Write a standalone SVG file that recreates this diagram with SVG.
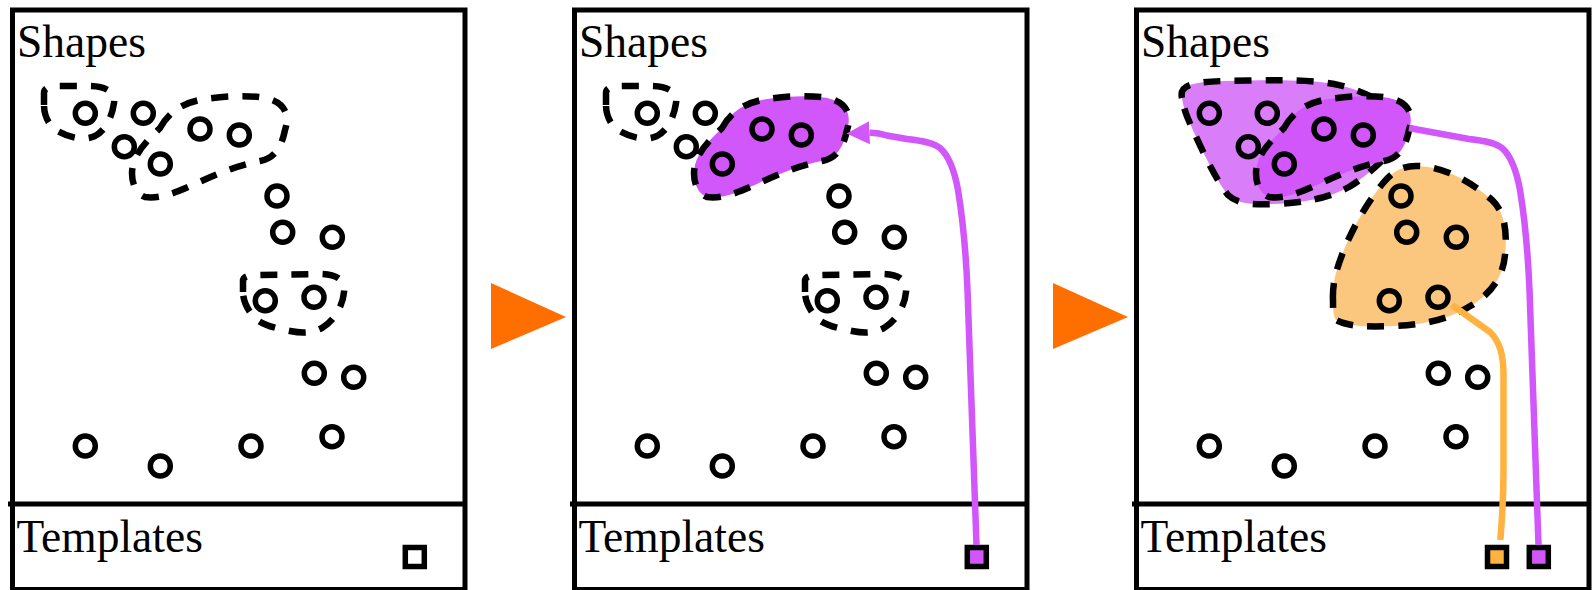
<svg xmlns="http://www.w3.org/2000/svg" width="1594" height="590" viewBox="0 0 1594 590">
<style>
.frame{fill:#fff;stroke:#000;stroke-width:5}
.divider{fill:none;stroke:#000;stroke-width:5}
.lbl{font-family:"Liberation Serif","Times New Roman",serif;font-size:45.5px;fill:#000}
.dot{fill:none;stroke:#000;stroke-width:5.5}
.blob{stroke:#000;stroke-width:6.5;stroke-dasharray:17 14}
.empty{fill:none}
.fp{fill:#d157fa}
.fl{fill:#d97ef8}
.fo{fill:#fbc67e}
.tpl{stroke:#000;stroke-width:5.5}
.step{fill:#ff6f00}
.cp{fill:none;stroke:#d157fa;stroke-width:6.5}
.co{fill:none;stroke:#ffb23f;stroke-width:6.5}
</style>
<defs>
<g id="dots">
<circle class="dot" cx="85.3" cy="113.3" r="10"/>
<circle class="dot" cx="143.3" cy="113.3" r="10"/>
<circle class="dot" cx="124.3" cy="146.7" r="10"/>
<circle class="dot" cx="160.3" cy="164" r="10"/>
<circle class="dot" cx="200" cy="129" r="10"/>
<circle class="dot" cx="239.3" cy="135" r="10"/>
<circle class="dot" cx="277" cy="196" r="10"/>
<circle class="dot" cx="282.7" cy="232.3" r="10"/>
<circle class="dot" cx="332.3" cy="237.3" r="10"/>
<circle class="dot" cx="265.3" cy="300.7" r="10"/>
<circle class="dot" cx="314" cy="297.3" r="10"/>
<circle class="dot" cx="314.3" cy="373.3" r="10"/>
<circle class="dot" cx="353.7" cy="377.3" r="10"/>
<circle class="dot" cx="85.3" cy="446" r="10"/>
<circle class="dot" cx="160.3" cy="466" r="10"/>
<circle class="dot" cx="251" cy="446" r="10"/>
<circle class="dot" cx="332" cy="436.7" r="10"/>
</g>
<path id="blobA" d="M44 105 L44 93 C44 87 52 86 62 86 L88 86 C106 86 116 92 114 103 C112 117 106 130 95 136 C82 142 66 136 56 130 C48 124 44 115 44 105 Z"/>
<path id="blobB" d="M160 128 C170 110 185 102 205 99 C225 96 250 95 265 98 C285 102 290 115 285 130 C282 145 276 158 260 161 C235 166 215 175 195 184 C175 193 160 199 145 197 C134 193 130 178 133 165 C137 150 148 140 160 128 Z"/>
<path id="blobC" d="M243 292 L243 281 C243 276 250 275 258 275 L320 274 C336 274 346 280 344 292 C343 305 335 320 322 328 C310 334 300 333 290 331 C275 328 262 325 255 318 C247 310 243 300 243 292 Z"/>
<marker id="arrP" markerUnits="userSpaceOnUse" markerWidth="24" markerHeight="24" viewBox="0 0 24 23" refX="0" refY="11.5" orient="auto"><path d="M0,0 L23,11.5 L0,23 Z" fill="#d157fa"/></marker>
</defs>

<g id="panel-1">
<rect class="frame" x="12.5" y="10" width="452.5" height="579.5"/>
<path class="divider" d="M8 504 H463"/>
<text class="lbl" x="17" y="57">Shapes</text>
<text class="lbl" x="16.5" y="552">Templates</text>
<g id="p1-groups">
<use href="#blobA" class="blob empty"/>
<use href="#blobB" class="blob empty"/>
<use href="#blobC" class="blob empty"/>
</g>
<use href="#dots"/>
<rect id="p1-template" class="tpl" x="405.3" y="547.5" width="19" height="19" fill="#fff"/>
</g>

<g id="step-1"><polygon class="step" points="491,283 566,317 491,349"/></g>

<g id="panel-2" transform="translate(562,0)">
<rect class="frame" x="12.5" y="10" width="452.5" height="579.5"/>
<path class="divider" d="M8 504 H463"/>
<text class="lbl" x="17" y="57">Shapes</text>
<text class="lbl" x="16.5" y="552">Templates</text>
<g id="p2-groups">
<use href="#blobA" class="blob empty"/>
<use href="#blobB" class="blob fp"/>
<use href="#blobC" class="blob empty"/>
</g>
<use href="#dots"/>
<rect id="p2-template" class="tpl fp" x="405.3" y="547.5" width="19" height="19"/>
</g>

<g id="step-2"><polygon class="step" points="1053,283 1128,317 1053,349"/></g>

<g id="panel-3" transform="translate(1124,0)">
<rect class="frame" x="12.5" y="10" width="452.5" height="579.5"/>
<path class="divider" d="M8 504 H463"/>
<text class="lbl" x="17" y="57">Shapes</text>
<text class="lbl" x="16.5" y="552">Templates</text>
<g id="p3-groups">
<path id="blobD" class="blob fl" d="M58 98 C55 85 68 82 100 81 C140 80 185 79 210 84 C230 88 245 95 258 102 L272 125 L262 157 C250 168 240 178 225 187 C205 198 180 203 150 204 C125 205 112 203 104 195 C92 180 78 150 68 128 C62 115 59 106 58 98 Z"/>
<use href="#blobB" class="blob fp"/>
<path id="blobE" class="blob fo" d="M209 300 C208 280 215 262 222 245 C232 222 245 200 260 182 C270 170 280 166 292 166 C318 166 345 180 368 200 C382 213 383 235 381 255 C379 278 366 294 348 305 C326 319 300 325 270 326 C245 327 225 327 212 320 C209 316 209 308 209 300 Z"/>
</g>
<use href="#dots"/>
<rect id="p3-template-orange" class="tpl fo" x="363.5" y="547.5" width="19" height="19" style="fill:#ffb23f"/>
<rect id="p3-template-purple" class="tpl fp" x="405.3" y="547.5" width="19" height="19"/>
</g>

<g id="connectors">
<path class="cp" transform="translate(562,0)" marker-end="url(#arrP)" d="M414.5 545 L405.5 290 C404 255 401 220 396 190 C392 168 386 155 378 148 C372 143 362 141 345 139 L325 135.5 Q316 132.5 307.5 132.8"/>
<path class="cp" transform="translate(1124,0)" d="M414.5 545 L405.5 290 C404 255 401 220 396 190 C392 168 386 155 378 148 C372 143 362 141 345 139 L285 128"/>
<path class="co" transform="translate(1124,0)" d="M376.3 540 C378 520 379.5 500 379.5 470 L379.5 375 C379.5 355 376 342 366 332 L328 305"/>
</g>
</svg>
